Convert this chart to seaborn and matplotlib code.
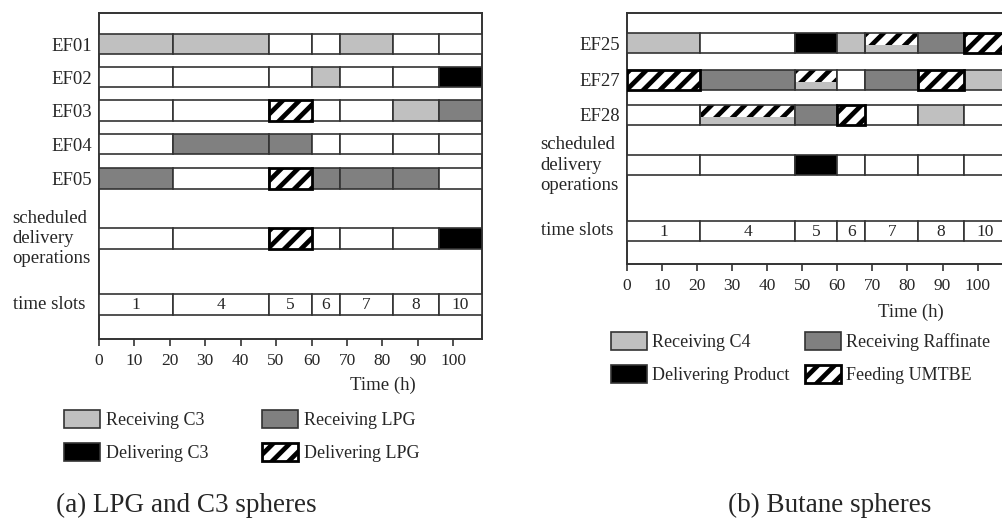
import matplotlib.pyplot as plt
import seaborn as sns
from matplotlib.patches import Patch

# ---------------------------------------------------------
# DATA
# ---------------------------------------------------------
slot_edges = [0, 21, 48, 60, 68, 83, 96, 108]
slot_names = ["1", "4", "5", "6", "7", "8", "10"]

# (a) LPG and C3 spheres: one operation per time slot
lpg_tanks = ["EF01", "EF02", "EF03", "EF04", "EF05"]
ef01 = ["RC3", "RC3", "", "", "RC3", "", ""]
ef02 = ["", "", "", "RC3", "", "", "DC3"]
ef03 = ["", "", "DLPG", "", "", "RC3", "RLPG"]
ef04 = ["", "RLPG", "RLPG", "", "", "", ""]
ef05 = ["RLPG", "", "DLPG", "RLPG", "RLPG", "RLPG", ""]
lpg_delivery = ["", "", "DLPG", "", "", "", "DC3"]

# (b) Butane spheres
butane_tanks = ["EF25", "EF27", "EF28"]
ef25 = ["RC4", "", "DPROD", "RC4", "FEED+RC4", "RRAF", "FEED"]
ef27 = ["FEED", "RRAF", "FEED+RC4", "", "RRAF", "FEED", "RC4"]
ef28 = ["", "FEED+RC4", "RRAF", "FEED", "", "RC4", ""]
butane_delivery = ["", "", "DPROD", "", "", "", ""]

lpg_legend = [("RC3", "Receiving C3"), ("DC3", "Delivering C3"),
              ("RLPG", "Receiving LPG"), ("DLPG", "Delivering LPG")]
butane_legend = [("RC4", "Receiving C4"), ("DPROD", "Delivering Product"),
                 ("RRAF", "Receiving Raffinate"), ("FEED", "Feeding UMTBE")]

# ---------------------------------------------------------
# STYLE
# ---------------------------------------------------------
sns.set_style("white")
plt.rcParams['font.family'] = ['Liberation Serif', 'DejaVu Serif']
plt.rcParams['hatch.linewidth'] = 3.4

LIGHT = '#c0c0c0'
DARK = '#808080'
EDGE = '#333333'
HATCH = '//'
face = {"RC3": LIGHT, "RC4": LIGHT, "RLPG": DARK, "RRAF": DARK,
        "DC3": 'black', "DPROD": 'black'}
hatched = {"DLPG", "FEED"}

W, H = 1003, 520
fig = plt.figure(figsize=(W / 100, H / 100), dpi=100)


def op_patch(code):
    if code in hatched:
        return Patch(facecolor='white', edgecolor='black', hatch=HATCH, linewidth=2)
    return Patch(facecolor=face[code], edgecolor=EDGE, linewidth=1.2)


def draw_row(ax, y, h, ops):
    for i, op in enumerate(ops):
        left = slot_edges[i]
        width = slot_edges[i + 1] - left
        if op == "FEED+RC4":
            # feeding and receiving at once: hatched upper part, grey lower part
            ax.barh(y - 0.2 * h, width, left=left, height=0.6 * h, facecolor='white',
                    edgecolor='black', hatch=HATCH, linewidth=0, zorder=2)
            ax.barh(y + 0.3 * h, width, left=left, height=0.4 * h, facecolor=LIGHT,
                    linewidth=0, zorder=2)
            ax.barh(y, width, left=left, height=h, fill=False, edgecolor=EDGE,
                    linewidth=1.2, zorder=3)
        elif op in hatched:
            ax.barh(y, width, left=left, height=h, facecolor='white', edgecolor='black',
                    hatch=HATCH, linewidth=2, zorder=4)
        else:
            ax.barh(y, width, left=left, height=h, facecolor=face.get(op, 'white'),
                    edgecolor=EDGE, linewidth=1.2, zorder=3)


def gantt(box, tanks, schedules, delivery, rows, legend_items, legend_pos, colspace,
          xlabel_pos, caption, caption_pos):
    x0, x1, top, bottom = box
    ax = fig.add_axes([x0 / W, 1 - bottom / H, (x1 - x0) / W, (bottom - top) / H])
    tank_y, deliv_y, slot_y, h = rows

    for y, ops in zip(tank_y, schedules):
        draw_row(ax, y, h, ops)
    draw_row(ax, deliv_y, h, delivery)
    draw_row(ax, slot_y, h, [""] * len(slot_names))
    for i, name in enumerate(slot_names):
        ax.text((slot_edges[i] + slot_edges[i + 1]) / 2, slot_y + 1, name,
                ha='center', va='center', fontsize=12.5, zorder=5)

    ax.set_xlim(slot_edges[0], slot_edges[-1])
    ax.set_ylim(bottom, top)
    ax.set_xticks(range(0, 101, 10))
    ax.set_yticks(tank_y, tanks)
    ax.tick_params(axis='y', length=0, pad=4.5, labelsize=13.5)
    ax.tick_params(axis='x', direction='out', length=5, width=1.2, color=EDGE,
                   pad=5, labelsize=12.5, bottom=True)
    for s in ax.spines.values():
        s.set_color(EDGE)
        s.set_linewidth(1.4)

    ax.annotate("scheduled\ndelivery\noperations", xy=(0, deliv_y),
                xycoords=('axes fraction', 'data'), xytext=(-62, 0),
                textcoords='offset points', ha='left', va='center',
                fontsize=13.5, linespacing=1.25)
    ax.annotate("time slots", xy=(0, slot_y), xycoords=('axes fraction', 'data'),
                xytext=(-62, 0), textcoords='offset points', ha='left',
                va='center', fontsize=13.5)

    ax.set_xlabel("Time (h)", fontsize=13.5)
    ax.xaxis.set_label_coords((xlabel_pos[0] - x0) / (x1 - x0),
                              (bottom - xlabel_pos[1]) / (bottom - top))
    ax.xaxis.label.set_va('center')

    ax.legend([op_patch(c) for c, _ in legend_items], [t for _, t in legend_items],
              ncol=2, loc='upper left', bbox_to_anchor=(legend_pos[0] / W, 1 - legend_pos[1] / H),
              bbox_transform=fig.transFigure, frameon=False, borderpad=0,
              borderaxespad=0, handlelength=2.0, handleheight=1.15,
              handletextpad=0.3, columnspacing=colspace, labelspacing=0.75,
              fontsize=13)

    fig.text(caption_pos[0] / W, 1 - caption_pos[1] / H, caption,
             ha='center', va='center', fontsize=19.5)
    return ax


gantt((98.7, 481.8, 12.7, 338.7), lpg_tanks, [ef01, ef02, ef03, ef04, ef05],
      lpg_delivery, ([44.2, 77.0, 110.4, 144.2, 178.3], 238.7, 304.3, 20.5),
      lpg_legend, (64, 410), 3.0, (383, 385),
      "(a) LPG and C3 spheres", (186, 505))

gantt((626.7, 626.7 + 108 * 3.51, 12.7, 264.0), butane_tanks, [ef25, ef27, ef28],
      butane_delivery, ([43.0, 79.7, 114.7], 165.0, 230.7, 20.0),
      butane_legend, (610.7, 332), 0.85, (911, 312),
      "(b) Butane spheres", (830, 505))

plt.savefig('out.png', dpi=100)
